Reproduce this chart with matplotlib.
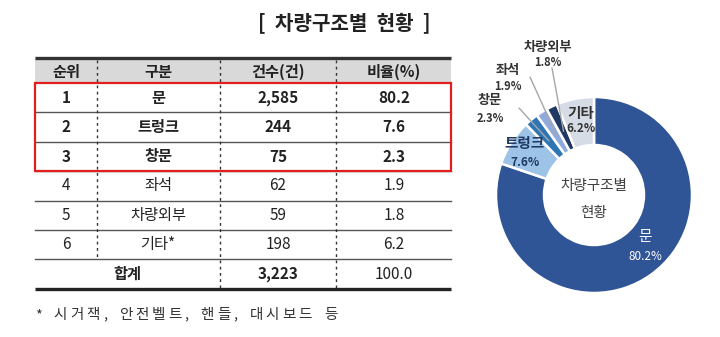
import matplotlib
matplotlib.use("Agg")
import matplotlib.pyplot as plt
from matplotlib.patches import Rectangle
import numpy as np

plt.rcParams['font.family'] = ['Noto Sans CJK KR', 'DejaVu Sans']

# ---- data ----
ranks = ["1", "2", "3", "4", "5", "6"]
parts = ["문", "트렁크", "창문", "좌석", "차량외부", "기타*"]
counts = [2585, 244, 75, 62, 59, 198]
shares = [80.2, 7.6, 2.3, 1.9, 1.8, 6.2]
total_count = 3223
total_share = 100.0
headers = ["순위", "구분", "건수(건)", "비율(%)"]
pie_labels = ["문", "트렁크", "창문", "좌석", "차량외부", "기타"]
pie_colors = ["#2F5597", "#9DC3E6", "#2E75B6", "#8FAADC", "#203864", "#D6DCE5"]
footnote = "* 시거잭, 안전벨트, 핸들, 대시보드 등"

W, H = 720, 337
fig = plt.figure(figsize=(W / 100, H / 100), dpi=100)
fig.patch.set_facecolor("white")
renderer = fig.canvas.get_renderer()

# overlay axes in pixel units (y downwards) for the table and titles
ov = fig.add_axes([0, 0, 1, 1])
ov.set_xlim(0, W)
ov.set_ylim(H, 0)
ov.axis("off")

ov.text(344, 23, "[  차량구조별  현황  ]", ha="center", va="center",
        fontsize=14.5, fontweight="bold", color="#222222")

# table geometry
x_left, x_right = 35, 451
col_sep = [97, 220, 336]
col_ctr = [66, 158, 278, 394]
y_top = 58
y_head_bot = 83
row_h = 29.4
row_tops = [y_head_bot + i * row_h for i in range(7)]
y_bot = row_tops[-1] + row_h
fs_tab = 11

# header
ov.add_patch(Rectangle((x_left, y_top), x_right - x_left, y_head_bot - y_top,
                       facecolor="#D9D9D9", edgecolor="none", zorder=1))
ov.plot([x_left, x_right], [y_top, y_top], color="#333333", lw=2.4, zorder=3,
        solid_capstyle="butt")
ov.plot([x_left, x_right], [y_bot, y_bot], color="#222222", lw=2.4, zorder=3,
        solid_capstyle="butt")
for j, h in enumerate(headers):
    ov.text(col_ctr[j], (y_top + y_head_bot) / 2 + 1, h, ha="center", va="center",
            fontsize=fs_tab, fontweight="bold", color="#222222")

# horizontal row separators
for yt in row_tops[1:]:
    ov.plot([x_left, x_right], [yt, yt], color="#555555", lw=1.0, zorder=2)

# vertical dotted separators
for k, xs in enumerate(col_sep):
    y_end = row_tops[6] if k == 0 else y_bot
    ov.plot([xs, xs], [y_top + 2, y_end], color="#333333", lw=1.0,
            linestyle=(0, (2, 2.5)), zorder=2)

# rows
for i in range(6):
    yc = row_tops[i] + row_h / 2
    fw = "bold" if i < 3 else "normal"
    vals = [ranks[i], parts[i], f"{counts[i]:,}", f"{shares[i]:.1f}"]
    for j, v in enumerate(vals):
        ov.text(col_ctr[j], yc, v, ha="center", va="center", fontsize=fs_tab,
                fontweight=fw, color="#222222")

# total row
yc = row_tops[6] + row_h / 2
ov.text((x_left + col_sep[1]) / 2, yc, "합계", ha="center", va="center",
        fontsize=fs_tab, fontweight="bold", color="#222222")
ov.text(col_ctr[2], yc, f"{total_count:,}", ha="center", va="center",
        fontsize=fs_tab, fontweight="bold", color="#222222")
ov.text(col_ctr[3], yc, f"{total_share:.1f}", ha="center", va="center",
        fontsize=fs_tab, color="#222222")

# red highlight box around the top three rows
ov.add_patch(Rectangle((x_left, row_tops[0]), x_right - x_left, 3 * row_h,
                       facecolor="none", edgecolor="#E02020", lw=1.6, zorder=4))


# footnote, drawn with letter spacing
def tracked_text(x, y, s, track, space, **kw):
    for ch in s:
        if ch == " ":
            x += space
            continue
        t = ov.text(x, y, ch, ha="left", va="center", **kw)
        x += t.get_window_extent(renderer).width + track


tracked_text(35, 315, footnote, track=3.0, space=9,
             fontsize=10.5, color="#333333")

# ---- donut ----
cx, cy, R = 594, 195, 98
ax = fig.add_axes([(cx - R) / W, (H - cy - R) / H, 2 * R / W, 2 * R / H])
wedges, _ = ax.pie(shares, colors=pie_colors, startangle=90, counterclock=False,
                   radius=1.0, wedgeprops=dict(width=0.49, edgecolor="white",
                                               linewidth=1.8))
ax.set_xlim(-1, 1)
ax.set_ylim(-1, 1)
ax.axis("off")

ax.text(0, 0.09, "차량구조별", ha="center", va="center", fontsize=10.5,
        color="#404040")
ax.text(0, -0.18, "현황", ha="center", va="center", fontsize=10.5, color="#404040")


def mid_angle(w):
    return np.deg2rad((w.theta1 + w.theta2) / 2)


def fig_label(txt, p, **kw):
    ax.annotate(txt, xy=(p[0], H - p[1]), xycoords="figure pixels",
                ha="center", va="center", annotation_clip=False, **kw)


# labels inside wedges
inside = {0: ((645, 237), (645, 257), "white", "normal"),
          1: ((524, 143), (525, 162), "#1F3864", "bold"),
          5: ((581, 113), (581, 129), "#333333", "bold")}
for idx, (p1, p2, col, fw) in inside.items():
    fig_label(pie_labels[idx], p1, fontsize=10.5, fontweight=fw, color=col)
    fig_label(f"{shares[idx]}%", p2, fontsize=8.5, fontweight=fw, color=col)

# outside labels with leader lines
outside = {2: ((490, 100), (490, 119), (519, 108)),
           3: ((508, 70), (508, 87), (530, 77)),
           4: ((548, 47), (548, 63), (552, 68))}
for idx, (p1, p2, lstart) in outside.items():
    ang = mid_angle(wedges[idx])
    r = 0.72
    ax.annotate("", xy=(r * np.cos(ang), r * np.sin(ang)), xycoords="data",
                xytext=(lstart[0], H - lstart[1]), textcoords="figure pixels",
                arrowprops=dict(arrowstyle="-", color="#A6A6A6", lw=1.0,
                                shrinkA=0, shrinkB=0),
                annotation_clip=False)
    fig_label(pie_labels[idx], p1, fontsize=9.5, fontweight="bold", color="#333333")
    fig_label(f"{shares[idx]}%", p2, fontsize=8, fontweight="bold", color="#333333")

fig.savefig("out.png", dpi=100)
